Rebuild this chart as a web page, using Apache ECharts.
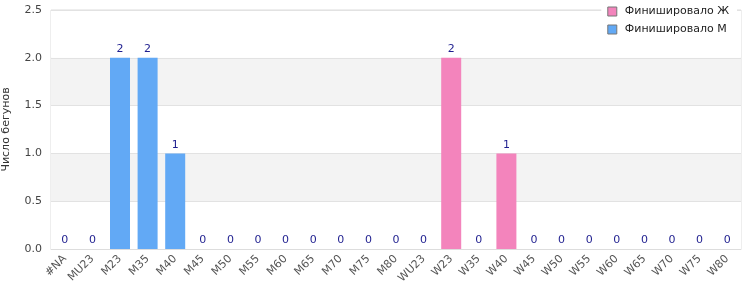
<!DOCTYPE html>
<html>
<head>
<meta charset="utf-8">
<script src="https://cdn.jsdelivr.net/npm/echarts@6/dist/echarts.min.js"></script>
<style>
    html, body { margin: 0; padding: 0; background: #fff; }
    #container { width: 750px; height: 300px; }
</style>
</head>
<body>
<div id="container"></div>
<script>
    // категории
    var categories = ['#NA','MU23','M23','M35','M40','M45','M50','M55','M60','M65','M70','M75','M80',
                      'WU23','W23','W35','W40','W45','W50','W55','W60','W65','W70','W75','W80'];
    // Финишировало М
    var menValues = [0,0,2,2,1,0,0,0,0,0,0,0,0,'-','-','-','-','-','-','-','-','-','-','-','-'];
    // Финишировало Ж
    var womenValues = ['-','-','-','-','-','-','-','-','-','-','-','-','-',0,2,0,1,0,0,0,0,0,0,0,0];
    var yTicks = [0, 0.5, 1, 1.5, 2, 2.5];

    var font = 'DejaVu Sans';
    var labelStyle = {
        show: true,
        position: 'top',
        distance: 3,
        color: '#1f1f8f',
        fontFamily: font,
        fontSize: 11
    };

    var myChart = echarts.init(document.getElementById('container'));
    var option = {
        animation: false,
        textStyle: { fontFamily: font },
        grid: {
            left: 51, right: 9, top: 10, bottom: 51,
            outerBoundsMode: 'none',
            containLabel: false,
            show: true,
            borderColor: '#dddddd',
            borderWidth: 1
        },
        legend: {
            right: 13,
            top: 2,
            orient: 'vertical',
            itemWidth: 9,
            itemHeight: 9,
            itemGap: 7,
            padding: [4, 8, 4, 6],
            backgroundColor: '#fff',
            textStyle: { fontFamily: font, fontSize: 11, color: '#222', padding: [0, 0, 0, 3] },
            data: [
                { name: 'Финишировало Ж', icon: 'rect', itemStyle: { borderColor: '#777', borderWidth: 1 } },
                { name: 'Финишировало М', icon: 'rect', itemStyle: { borderColor: '#777', borderWidth: 1 } }
            ]
        },
        xAxis: {
            type: 'category',
            data: categories,
            axisLine: { show: true, lineStyle: { color: '#dddddd' } },
            axisTick: { show: false },
            axisLabel: {
                interval: 0,
                rotate: 45,
                color: '#555',
                fontFamily: font,
                fontSize: 11,
                margin: 8
            }
        },
        yAxis: {
            type: 'value',
            min: yTicks[0],
            max: yTicks[yTicks.length - 1],
            interval: 0.5,
            name: 'Число бегунов',
            nameLocation: 'middle',
            nameGap: 39,
            nameTextStyle: { color: '#333', fontFamily: font, fontSize: 11 },
            axisLine: { show: false },
            axisTick: { show: false },
            axisLabel: {
                color: '#444',
                fontFamily: font,
                fontSize: 11,
                margin: 9,
                formatter: function (v) { return v.toFixed(1); }
            },
            splitLine: { lineStyle: { color: '#e2e2e2' } },
            splitArea: { show: true, areaStyle: { color: ['#ffffff', '#f3f3f3'] } }
        },
        series: [
            {
                name: 'Финишировало М',
                type: 'bar',
                stack: 'all',
                barWidth: 20,
                data: menValues,
                itemStyle: { color: '#62a9f5' },
                label: labelStyle
            },
            {
                name: 'Финишировало Ж',
                type: 'bar',
                stack: 'all',
                barWidth: 20,
                data: womenValues,
                itemStyle: { color: '#f384bc' },
                label: labelStyle
            }
        ]
    };
    myChart.setOption(option);
</script>
</body>
</html>
